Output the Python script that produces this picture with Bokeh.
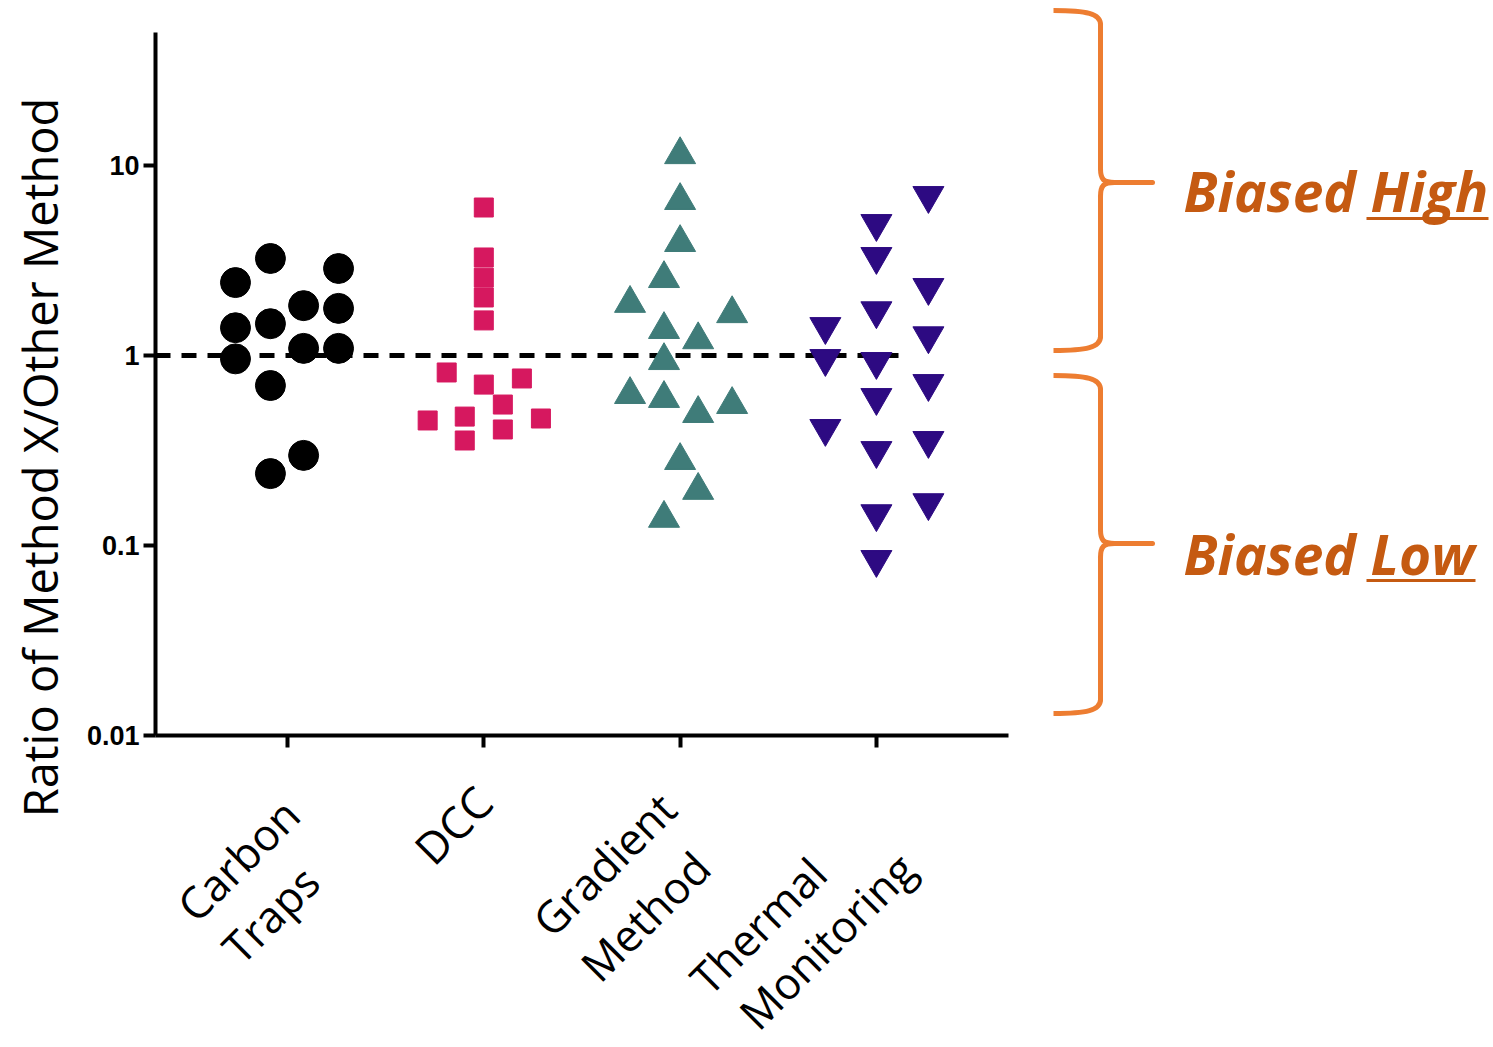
import math
from bokeh.plotting import figure
from bokeh.models import Range1d, FixedTicker, CustomJSTickFormatter
from bokeh.embed import file_html
from bokeh.resources import INLINE
from bokeh.core.properties import value

# ---------------- data ----------------
categories = ["Carbon\nTraps", "DCC", "Gradient\nMethod", "Thermal\nMonitoring"]
y_ticks = [0.01, 0.1, 1, 10]
y_label = "Ratio of Method X/Other Method"

# jitter offset (in category units) and ratio for each point
carbon_offset = [-0.265, -0.087, 0.26, -0.265, -0.087, 0.082, 0.26, -0.265, 0.082, 0.26, -0.087, 0.082, -0.087]
carbon_ratio = [2.42, 3.24, 2.87, 1.40, 1.47, 1.83, 1.77, 0.96, 1.09, 1.09, 0.695, 0.298, 0.239]

dcc_offset = [0, 0, 0, 0, 0, -0.189, 0, 0.194, 0.097, -0.286, -0.097, 0.291, -0.097, 0.097]
dcc_ratio = [6.01, 3.28, 2.57, 2.02, 1.53, 0.814, 0.703, 0.757, 0.552, 0.455, 0.477, 0.466, 0.357, 0.408]

gradient_offset = [0, 0, 0, -0.082, -0.255, 0.265, -0.082, 0.092, -0.082, -0.255, -0.082, 0.265, 0.092, 0, 0.092, -0.082]
gradient_ratio = [11.4, 6.54, 3.93, 2.54, 1.88, 1.66, 1.37, 1.21, 0.94, 0.623, 0.594, 0.552, 0.495, 0.280, 0.195, 0.139]

thermal_offset = [0.265, 0, 0, 0.265, 0, -0.26, 0.265, -0.26, 0, 0.265, 0, -0.26, 0.265, 0, 0.265, 0, 0]
thermal_ratio = [6.95, 4.95, 3.32, 2.28, 1.72, 1.42, 1.27, 0.964, 0.930, 0.712, 0.601, 0.413, 0.357, 0.316, 0.168, 0.147, 0.0844]

ref_value = 1.0
annotations = ["Biased", "High", "Low"]

# ---------------- geometry (pixel layout of the page) ----------------
W, H = 1490, 1044
X0_PX, DX_PX = 287.0, 196.3        # pixel of category 0 and pixels per category
Y1_PX, DEC_PX = 355.0, 190.0       # pixel of ratio 1 and pixels per decade
AX_L, AX_R, AX_T, AX_B = 155, 1008, 32, 735
REF_END_PX = 900


def xd(px):
    return (px - X0_PX) / DX_PX


def yd(py):
    return 10 ** ((Y1_PX - py) / DEC_PX)


FONT = "Open Sans"

p = figure(width=W, height=H, output_backend="svg", toolbar_location=None,
           y_axis_type="log",
           x_range=Range1d(xd(0), xd(W)), y_range=Range1d(yd(H), yd(0)),
           min_border=0)
p.outline_line_color = None
p.xgrid.visible = False
p.ygrid.visible = False
p.background_fill_color = "white"
p.border_fill_color = "white"

# reference line at ratio = 1
p.line([xd(AX_L), xd(REF_END_PX)], [ref_value, ref_value], line_color="black",
       line_width=5, line_dash="15 11")

p.scatter([0 + o for o in carbon_offset], carbon_ratio, marker="circle", size=30,
          fill_color="black", line_color="black")
p.scatter([1 + o for o in dcc_offset], dcc_ratio, marker="square", size=19,
          fill_color="#D6185F", line_color="#D6185F")
p.scatter([2 + o for o in gradient_offset], gradient_ratio, marker="triangle", size=31,
          fill_color="#3F7C79", line_color="#3F7C79")
p.scatter([3 + o for o in thermal_offset], thermal_ratio, marker="inverted_triangle", size=31,
          fill_color="#2D0A82", line_color="#2D0A82")

for ax in (p.xaxis[0], p.yaxis[0]):
    ax.axis_line_width = 4
    ax.axis_line_color = "black"
    ax.major_tick_line_width = 4
    ax.major_tick_line_color = "black"
    ax.major_tick_out = 12
    ax.major_tick_in = 0
    ax.minor_tick_line_color = None

xa = p.xaxis[0]
xa.fixed_location = yd(AX_B)
xa.bounds = (xd(AX_L), xd(AX_R))
xa.ticker = FixedTicker(ticks=list(range(len(categories))))
xa.major_label_overrides = {i: "" for i in range(len(categories))}
xa.major_label_text_font_size = "1px"

ya = p.yaxis[0]
ya.fixed_location = xd(AX_L)
ya.bounds = (yd(AX_B), yd(AX_T))
ya.ticker = FixedTicker(ticks=y_ticks)
ya.formatter = CustomJSTickFormatter(code="return tick.toString();")
ya.major_label_text_font = "Liberation Sans"
ya.major_label_text_font_style = "bold"
ya.major_label_text_font_size = "27px"
ya.major_label_text_color = "black"
ya.major_label_standoff = 4

# y axis title
p.text(x=[xd(39)], y=[yd(457)], text=[y_label], angle=math.pi / 2,
       text_align="center", text_baseline="middle", text_font=value(FONT),
       text_font_size="47px", text_color="black")

# category labels (rotated 45 deg, one text per line, left aligned)
LBL_SIZE = 44
FIX = 0.41 * LBL_SIZE * math.sqrt(0.5)   # baseline correction along the text's up direction
line_pos = [  # (dx from tick px, baseline y px) of the start of each line
    [(-90, 925), (-45, 967)],
    [(-49, 868)],
    [(-127, 940), (-79, 985)],
    [(-166, 998), (-117, 1033)],
]
lx, ly, lt = [], [], []
for i, cat in enumerate(categories):
    for line, (dx, by) in zip(cat.split("\n"), line_pos[i]):
        lx.append(i + (dx - FIX) / DX_PX)
        ly.append(yd(by - FIX))
        lt.append(line)
p.text(x=lx, y=ly, text=lt, angle=math.pi / 4, text_align="left", text_baseline="alphabetic",
       text_font=value(FONT), text_font_size=f"{LBL_SIZE}px", text_color="black")

# ---------------- braces and notes ----------------
ORANGE = "#ED7D31"
braces = [(10, 182, 350), (375, 543, 713)]
xl, xs, xt = 1053, 1100, 1152
bx0, by0, bx1, by1, bcx0, bcy0, bcx1, bcy1 = [], [], [], [], [], [], [], []
sx0, sy0, sx1, sy1 = [], [], [], []
for yt, ym, yb in braces:
    curves = [
        (xl, yt, xs, yt + 14, xs - 14, yt, xs, yt + 3),
        (xs, ym - 14, xs + 14, ym, xs, ym - 3, xs + 3, ym),
        (xs + 14, ym, xs, ym + 14, xs + 3, ym, xs, ym + 3),
        (xs, yb - 14, xl, yb, xs, yb - 3, xs - 14, yb),
    ]
    for c in curves:
        bx0.append(xd(c[0])); by0.append(yd(c[1])); bx1.append(xd(c[2])); by1.append(yd(c[3]))
        bcx0.append(xd(c[4])); bcy0.append(yd(c[5])); bcx1.append(xd(c[6])); bcy1.append(yd(c[7]))
    for s in [(xs, yt + 14, xs, ym - 14), (xs, ym + 14, xs, yb - 14), (xs + 14, ym, xt, ym)]:
        sx0.append(xd(s[0])); sy0.append(yd(s[1])); sx1.append(xd(s[2])); sy1.append(yd(s[3]))

p.bezier(x0=bx0, y0=by0, x1=bx1, y1=by1, cx0=bcx0, cy0=bcy0, cx1=bcx1, cy1=bcy1,
         line_color=ORANGE, line_width=5)
p.segment(x0=sx0, y0=sy0, x1=sx1, y1=sy1, line_color=ORANGE, line_width=5, line_cap="round")

TXT = "#C55A11"
text_kw = dict(text_font=value(FONT), text_font_style="bold italic", text_font_size="55px",
               text_color=TXT, text_baseline="alphabetic", text_align="left")
p.text(x=[xd(1183), xd(1183)], y=[yd(190), yd(553)], text=[annotations[0], annotations[0]], **text_kw)
p.text(x=[xd(1370), xd(1370)], y=[yd(190), yd(553)], text=[annotations[1], annotations[2]], **text_kw)
p.segment(x0=[xd(1366), xd(1366)], y0=[yd(218), yd(580)], x1=[xd(1488), xd(1475)],
          y1=[yd(218), yd(580)], line_color=TXT, line_width=3)

open("out.html", "w").write(file_html(p, INLINE))
